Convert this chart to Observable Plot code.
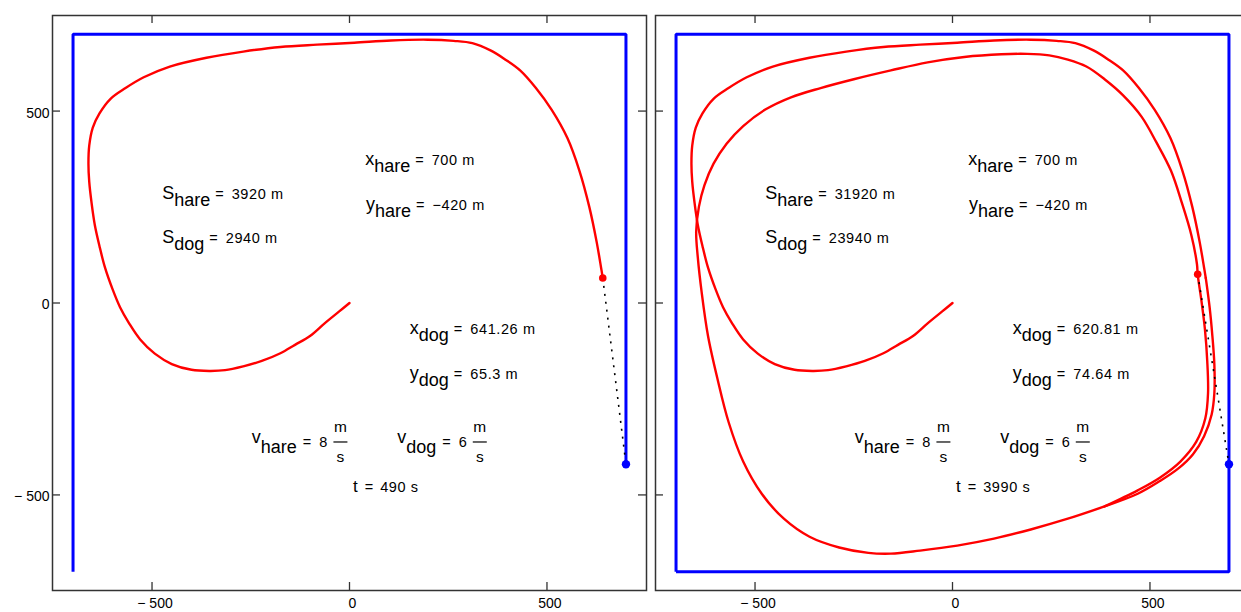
<!DOCTYPE html>
<html><head><meta charset="utf-8">
<script src="https://cdn.jsdelivr.net/npm/d3@7"></script>
<script src="https://cdn.jsdelivr.net/npm/@observablehq/plot@0.6"></script>
<style>
html,body{margin:0;padding:0;background:#fff;}
#wrap{position:relative;width:1241px;height:612px;overflow:hidden;background:#fff;}
#wrap svg{position:absolute;top:0;max-width:none;}
</style></head><body><div id="wrap"></div>
<script>
// ---------- data ----------
const tickValues = [-500, 0, 500];
const tickLabels = ["\u2212 500", "0", "500"];

// hare runs clockwise round the square, starting at the lower-left corner
const hareRun490 = [[-700,-700],[-700,700],[700,700],[700,-420]];
const hareRun3990 = [[-700,-700],[-700,700],[700,700],[700,-700],[-700,-700]];
const harePos = [700, -420];

// dog track, t = 0 .. 490 s
const dogTrack490 = [
[0,0],[-26,-22],[-63,-53],[-100,-86],[-138,-109],[-175,-131],[-222,-151],[-269,-165],[-315,-175],
[-355,-177],[-400,-174],[-450,-159],[-493,-132],[-530,-95],[-558,-53],[-581,-11],[-600,36],[-619,92],
[-633,148],[-645,204],[-653,260],[-659,316],[-661,363],[-659,410],[-650,457],[-633,494],[-605,532],
[-567,560],[-521,588],[-455,616],[-362,639],[-269,655],[-175,667],[-82,673],[12,678],[105,684],
[198,686],[264,683],[311,677],[357,658],[395,634],[432,606],[472,560],[512,503],[552,429],[582,345],
[607,251],[626,158],[637,92],[641.26,65.3]
];
// dog track after t = 490 s: first descent along the right side
const dogTrackOuter = [
[641.26,65.3],[651,-11],[658,-86],[663,-160],[663,-235],[656,-291],[637,-347],[609,-394],[572,-431],
[525,-464],[469,-497],[385,-530]
];
// the settled lap the dog keeps repeating until t = 3990 s
const dogTrackCycle = [
[385,-530],[292,-562],[198,-590],[105,-614],[12,-632],[-82,-645],[-156,-653],[-213,-651],[-287,-637],
[-362,-609],[-427,-562],[-483,-497],[-530,-413],[-567,-310],[-595,-198],[-619,-86],[-635,27],[-645,120],
[-649,186],[-642,251],[-628,307],[-605,363],[-572,415],[-530,461],[-474,504],[-409,536],[-334,560],
[-250,583],[-156,606],[-63,627],[30,641],[124,648],[189,649],[245,645],[292,634],[339,616],[385,583],
[432,541],[479,485],[516,419],[553,345],[581,260],[605,176],[619,101],[620.81,74.64],[630,8],[639,-67],
[645,-151],[647,-235],[640,-301],[617,-362],[577,-413],[525,-455],[469,-488],[385,-530]
];
const dogPos490 = [641.26, 65.3];
const dogPos3990 = [620.81, 74.64];

const eqNames = [["S","hare"],["S","dog"],["x","hare"],["y","hare"],["x","dog"],["y","dog"]];
const eqValuesLeft = ["3920 m","2940 m","700 m","\u2212420 m","641.26 m","65.3 m"];
const eqValuesRight = ["31920 m","23940 m","700 m","\u2212420 m","620.81 m","74.64 m"];
const timeLeft = "490 s", timeRight = "3990 s";
const speedNames = ["hare", "dog"];
const speedValues = ["8", "6"];

// ---------- layout (data-space anchors of the text blocks) ----------
const eqAnchors = [[-473,270],[-473,155],[41,358],[43,241],[154,-82],[154,-199]];
const timeAnchor = [10,-494];
const speedAnchors = [[-246,-366],[122,-366]];

const FONT = "'Liberation Sans', Arial, Helvetica, sans-serif";
const wrap = document.getElementById("wrap");

function panel({hare, dogParts, dog, showY, left}) {
  const rows = [];
  dogParts.forEach((part, k) => part.forEach(p => rows.push({x: p[0], y: p[1], seg: k})));
  const fmt = d => tickLabels[tickValues.indexOf(d)];
  const plot = Plot.plot({
    width: 650, height: 612,
    marginLeft: 52, marginRight: 4, marginTop: 15, marginBottom: 22,
    x: {domain: [-752, 752], label: null},
    y: {domain: [-749, 749], label: null, axis: showY ? undefined : null},
    style: {background: "transparent", fontFamily: FONT, fontSize: "14px", color: "#000", overflow: "visible"},
    marks: [
      Plot.line(hare, {x: d => d[0], y: d => d[1], stroke: "#0000ff", strokeWidth: 3, strokeLinecap: "butt", strokeLinejoin: "miter"}),
      Plot.line(rows, {x: "x", y: "y", z: "seg", stroke: "#ff0000", strokeWidth: 2.4, curve: "catmull-rom"}),
      Plot.link([{a: dog, b: harePos}], {x1: d => d.a[0], y1: d => d.a[1], x2: d => d.b[0], y2: d => d.b[1],
        stroke: "#000", strokeWidth: 1.6, strokeDasharray: "2,6"}),
      Plot.dot([dog], {x: d => d[0], y: d => d[1], r: 3.8, fill: "#ff0000"}),
      Plot.dot([harePos], {x: d => d[0], y: d => d[1], r: 4.2, fill: "#0000ff"}),
      Plot.frame({stroke: "#333", strokeWidth: 1.5}),
      Plot.tickX(tickValues, {x: d => d, insetBottom: 567, stroke: "#333", strokeWidth: 1.3}),
      Plot.tickX(tickValues, {x: d => d, insetTop: 567, stroke: "#333", strokeWidth: 1.3}),
      Plot.tickY(tickValues, {y: d => d, insetRight: 586, stroke: "#333", strokeWidth: 1.3}),
      Plot.tickY(tickValues, {y: d => d, insetLeft: 586, stroke: "#333", strokeWidth: 1.3}),
      Plot.axisX(tickValues, {anchor: "bottom", tickSize: 0, tickPadding: 8, tickFormat: fmt, dx: 3, fontSize: 14, fill: "#000", label: null}),
      showY ? Plot.axisY(tickValues, {anchor: "left", tickSize: 0, tickPadding: 3, tickFormat: fmt, dy: 2, fontSize: 14, fill: "#000", label: null}) : null
    ]
  });
  plot.style.left = left + "px";
  wrap.appendChild(plot);
  return plot;
}

function annotate(plot, values, time) {
  const sx = plot.scale("x"), sy = plot.scale("y");
  const g = d3.select(plot).append("g").attr("font-family", FONT).attr("fill", "#000").attr("text-anchor", "start");
  eqNames.forEach(([name, sub], i) => {
    const [ax, ay] = eqAnchors[i];
    const t = g.append("text").attr("x", sx.apply(ax)).attr("y", sy.apply(ay));
    t.append("tspan").attr("font-size", 18).text(name);
    t.append("tspan").attr("font-size", 18).attr("dy", 7).text(sub);
    t.append("tspan").attr("font-size", 14.5).attr("dy", -7).attr("dx", 5).text("=");
    t.append("tspan").attr("font-size", 14.5).attr("dx", 8).attr("letter-spacing", 0.6).text(values[i]);
  });
  {
    const t = g.append("text").attr("x", sx.apply(timeAnchor[0])).attr("y", sy.apply(timeAnchor[1]));
    t.append("tspan").attr("font-size", 17).text("t");
    t.append("tspan").attr("font-size", 14.5).attr("dx", 7).text("=");
    t.append("tspan").attr("font-size", 14.5).attr("dx", 7).attr("letter-spacing", 0.6).text(time);
  }
  speedNames.forEach((sub, i) => {
    const px = sx.apply(speedAnchors[i][0]), py = sy.apply(speedAnchors[i][1]);
    const t = g.append("text").attr("x", px).attr("y", py);
    t.append("tspan").attr("font-size", 18).text("v");
    t.append("tspan").attr("font-size", 18).attr("dy", 10).text(sub);
    t.append("tspan").attr("font-size", 14.5).attr("dy", -6).attr("dx", 6).text("=");
    t.append("tspan").attr("font-size", 14.5).attr("dx", 8).text(speedValues[i]);
    const bb = t.node().getBBox();
    const x0 = bb.x + bb.width + 6, w = 14, cx = x0 + w / 2;
    g.append("line").attr("x1", x0).attr("x2", x0 + w).attr("y1", py - 1).attr("y2", py - 1)
      .attr("stroke", "#000").attr("stroke-width", 1.2);
    g.append("text").attr("x", cx).attr("y", py - 11).attr("font-size", 15.5).attr("text-anchor", "middle").text("m");
    g.append("text").attr("x", cx).attr("y", py + 19).attr("font-size", 15.5).attr("text-anchor", "middle").text("s");
  });
}

const leftPlot = panel({hare: hareRun490, dogParts: [dogTrack490], dog: dogPos490, showY: true, left: 0});
annotate(leftPlot, eqValuesLeft, timeLeft);
const rightPlot = panel({hare: hareRun3990, dogParts: [dogTrack490, dogTrackOuter, dogTrackCycle], dog: dogPos3990, showY: false, left: 603});
annotate(rightPlot, eqValuesRight, timeRight);
</script></body></html>
